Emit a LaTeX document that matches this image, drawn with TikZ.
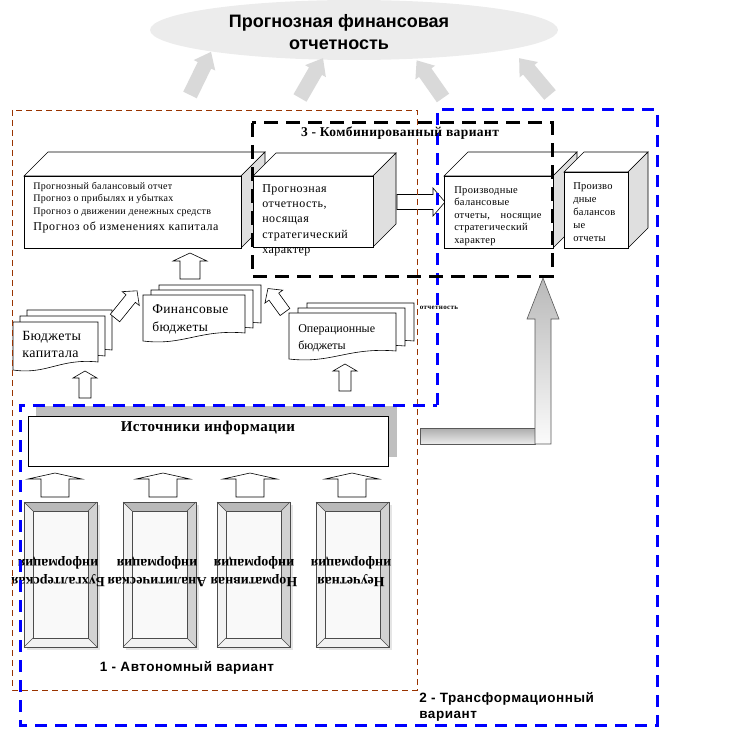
\documentclass[tikz,border=0pt]{standalone}
\usepackage{fontspec}
\setmainfont{Liberation Serif}
\setsansfont{Liberation Sans}
\usetikzlibrary{shapes.geometric}

\definecolor{rust}{RGB}{153,51,0}
\newcommand{\fsz}[2]{\fontsize{#1}{#2}\selectfont}
\newcommand{\spaced}[1]{\addfontfeature{LetterSpace=#1}}

% 3d box: x1 y1 x2 y2 depth
\newcommand{\prismbox}[5]{%
  \filldraw[fill=white] (#1,#2) -- ({#1+#5},{#2-#5}) -- ({#3+#5},{#2-#5}) -- (#3,#2) -- cycle;
  \filldraw[fill=gray!25] (#3,#2) -- ({#3+#5},{#2-#5}) -- ({#3+#5},{#4-#5}) -- (#3,#4) -- cycle;
  \filldraw[fill=white] (#1,#2) rectangle (#3,#4);
}
% document with wavy bottom: x y w h
\newcommand{\wavedoc}[4]{%
  \filldraw[fill=white] (#1,#2) -- ({#1+#3},#2) -- ({#1+#3},{#2+#4})
    .. controls ({#1+0.55*#3},{#2+#4-4}) and ({#1+0.4*#3},{#2+#4+13}) .. (#1,{#2+#4+8}) -- cycle;
}
% block arrow: x y length angle shaft head headlen style
\newcommand{\blockarrow}[8]{%
  \begin{scope}[shift={(#1,#2)},rotate=#4]
    \filldraw[#8] (0,{-#5}) -- ({#3-#7},{-#5}) -- ({#3-#7},{-#6}) -- (#3,0)
      -- ({#3-#7},#6) -- ({#3-#7},#5) -- (0,#5) -- cycle;
  \end{scope}
}
% framed source panel: x1 y1 x2 y2
\newcommand{\bevelframe}[4]{%
  \fill[gray!20] ({#1+3},{#2+3}) rectangle ({#3+3},{#4+3});
  \fill[gray!10] (#1,#2) rectangle (#3,#4);
  \fill[gray!55] (#1,#2) -- (#3,#2) -- ({#3-9},{#2+9}) -- ({#1+9},{#2+9}) -- cycle;
  \fill[gray!35] (#3,#2) -- (#3,#4) -- ({#3-9},{#4-9}) -- ({#3-9},{#2+9}) -- cycle;
  \filldraw[draw=gray!60!black, fill=gray!5] ({#1+9},{#2+9}) rectangle ({#3-9},{#4-9});
  \draw[gray!60!black] (#1,#2) rectangle (#3,#4);
  \draw[gray!60!black] (#1,#2) -- ({#1+9},{#2+9}) (#3,#2) -- ({#3-9},{#2+9})
    (#1,#4) -- ({#1+9},{#4-9}) (#3,#4) -- ({#3-9},{#4-9});
}

\tikzset{
  frameauto/.style={rust, line width=0.9pt, dash pattern=on 6pt off 4pt},
  frametrans/.style={blue, line width=3pt, dash pattern=on 12pt off 8pt},
  framecomb/.style={black, line width=3pt, dash pattern=on 14pt off 8pt},
  whitearrow/.style={draw=black, fill=white, line width=0.6pt},
  greyarrow/.style={fill=gray!30, draw=none},
  boxtext/.style={anchor=north west, align=left, inner sep=0pt},
  varlabel/.style={font=\sffamily\bfseries\fsz{13.5}{16}\spaced{4}},
  sourcetext/.style={rotate=180, align=center, font=\bfseries\fsz{14}{18}}
}

\begin{document}
\begin{tikzpicture}[x=1pt, y=-1pt, line width=0.6pt]
  \useasboundingbox (0,0) rectangle (741,738);

  % top goal
  \node[ellipse, fill=gray!15, minimum width=408pt, minimum height=60pt] (forecast) at (354,30) {};
  \node[align=center, font=\sffamily\bfseries\fsz{18}{22}] (forecastlbl) at (339,32)
    {Прогнозная финансовая\\отчетность};
  \blockarrow{190}{95}{48}{64}{7.5}{12}{15}{greyarrow}
  \blockarrow{300}{98}{46}{60}{7.5}{12}{15}{greyarrow}
  \blockarrow{443}{98}{46}{125}{7.5}{12}{15}{greyarrow}
  \blockarrow{550}{95}{48}{130}{7.5}{12}{15}{greyarrow}

  % forecast boxes
  \prismbox{24}{176}{241}{248}{24}
  \node[boxtext, font=\fsz{10}{12.5}\spaced{3}] (fc1) at (33,182)
    {Прогнозный балансовый отчет\\Прогноз о прибылях и убытках\\Прогноз о движении денежных средств};
  \node[anchor=west, inner sep=0pt, font=\fsz{12}{14}\spaced{5}] (fc2) at (33,227) {Прогноз об изменениях капитала};

  \prismbox{253}{176}{373}{247}{23}
  \node[boxtext, font=\fsz{12}{15.3}\spaced{4}] (strat) at (262,184)
    {Прогнозная\\отчетность,\\носящая\\стратегический\\характер};
  \blockarrow{397}{202}{48}{0}{7.5}{14}{12}{whitearrow}

  \prismbox{444}{176}{553}{248}{24}
  \node[boxtext, font=\fsz{10.5}{12.5}\spaced{3}] (deriv) at (454,186)
    {Производные\\балансовые\\отчеты,\quad носящие\\стратегический\\характер};
  \prismbox{564}{172}{628}{248}{20}
  \node[boxtext, font=\fsz{10.5}{13}\spaced{2}] (derivbal) at (573,182)
    {Произво\\дные\\балансов\\ые\\отчеты};

  % budgets
  \node[inner sep=0pt, font=\bfseries\fsz{7}{8}\spaced{5}] (otch) at (439,308) {отчетность};
  \wavedoc{27}{310}{85}{40}
  \wavedoc{20}{316}{85}{40}
  \wavedoc{13}{322}{85}{40}
  \node[boxtext, font=\fsz{14}{17}\spaced{3}] (capbud) at (22,331) {Бюджеты\\капитала};
  \wavedoc{159}{285}{102}{38}
  \wavedoc{151}{290}{102}{38}
  \wavedoc{143}{295}{102}{38}
  \node[boxtext, font=\fsz{13.5}{18}\spaced{3}] (finbud) at (152,304) {Финансовые\\бюджеты};
  \wavedoc{307}{303}{107}{38}
  \wavedoc{298}{308}{107}{38}
  \wavedoc{289}{313}{107}{38}
  \node[boxtext, font=\fsz{12}{17}] (opbud) at (298,324) {Операционные\\бюджеты};

  \blockarrow{85}{398}{27}{90}{6}{12}{7}{whitearrow}
  \blockarrow{345}{391}{27}{90}{6}{12}{7}{whitearrow}
  \blockarrow{115}{318}{35}{51}{6}{11}{10}{whitearrow}
  \blockarrow{285}{312}{29}{126}{6}{11}{10}{whitearrow}
  \blockarrow{190}{279}{26}{90}{10}{17}{8}{whitearrow}

  % information sources
  \fill[gray!50] (36,406) rectangle (397,457);
  \draw[fill=white] (28,416) rectangle (388,466);
  \node[font=\bfseries\fsz{15}{17}\spaced{3}] (sources) at (208,428) {Источники информации};
  \foreach \cx in {55,163,250,352}
    \blockarrow{\cx}{497}{24}{90}{14}{27}{6}{whitearrow};

  \bevelframe{24}{502}{97}{647}
  \bevelframe{123}{502}{196}{647}
  \bevelframe{217}{502}{290}{647}
  \bevelframe{316}{502}{389}{647}
  \node[sourcetext] (acc) at (58,572) {Бухгалтерская\\информация};
  \node[sourcetext] (anal) at (157,572) {Аналитическая\\информация};
  \node[sourcetext] (norm) at (254,572) {Нормативная\\информация};
  \node[sourcetext] (noacc) at (351,572) {Неучетная\\информация};

  % transformation arrow
  \shade[top color=gray!65, bottom color=gray!15, draw=gray!70!black] (420,428) rectangle (535,444);
  \shade[top color=gray!55, bottom color=gray!3, draw=gray!70!black]
    (535,444) -- (535,319) -- (527,319) -- (543,278) -- (559,319) -- (551,319) -- (551,444) -- cycle;

  % variant frames
  \draw[frameauto] (12,110) rectangle (417,690);
  \draw[frametrans] (437,405) -- (437,110) -- (657,110) -- (657,725) -- (20,725) -- (20,405) -- cycle;
  \draw[framecomb] (252,123) rectangle (552,276);

  \node[font=\bfseries\fsz{13.5}{15}\spaced{3}] (comb) at (400,133) {3 - Комбинированный вариант};
  \node[varlabel] (auto) at (187,668) {1 - Автономный вариант};
  \node[varlabel, anchor=north west, align=left, inner sep=0pt] (trans) at (419,692)
    {2 - Трансформационный\\вариант};
\end{tikzpicture}
\end{document}
